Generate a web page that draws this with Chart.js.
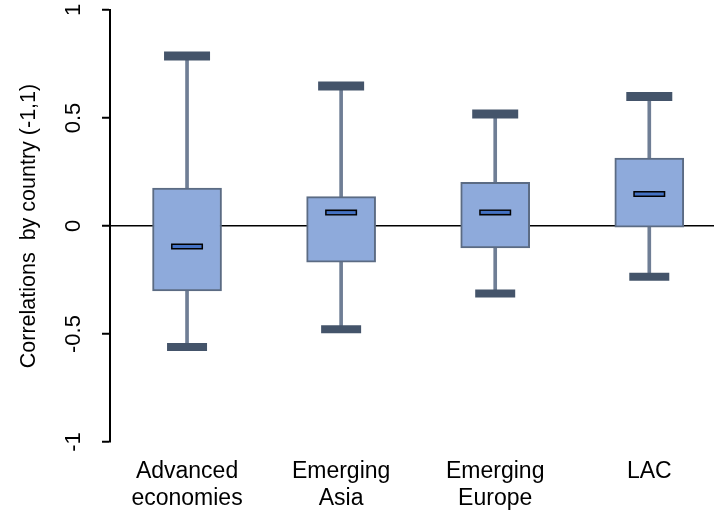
<!DOCTYPE html>
<html>
<head>
<meta charset="utf-8">
<script src="https://cdn.jsdelivr.net/npm/chart.js@4/dist/chart.umd.min.js"></script>
<style>
  html, body { margin: 0; padding: 0; background: #ffffff; }
  #wrap { width: 714px; height: 514px; }
</style>
</head>
<body>
<div id="wrap"><canvas id="chart" width="714" height="514"></canvas></div>
<script>
// Regions shown on the horizontal axis
const categories = [['Advanced', 'economies'], ['Emerging', 'Asia'], ['Emerging', 'Europe'], 'LAC'];

// Box-plot statistics of the country correlations, one value per region
const whiskerLow  = [-0.56, -0.478, -0.312, -0.235];
const quartile1   = [-0.30, -0.168, -0.102, -0.005];
const medians     = [-0.095, 0.062, 0.063, 0.148];
const quartile3   = [0.176, 0.136, 0.202, 0.315];
const whiskerHigh = [0.787, 0.648, 0.519, 0.60];

// Value-axis ticks
const yTicks = [-1, -0.5, 0, 0.5, 1];

const positions = categories.map((_, i) => i);
const pts = (vals) => vals.map((v, i) => ({ x: positions[i], y: v }));
const ranges = (lo, hi) => lo.map((v, i) => ({ x: positions[i], y: [v, hi[i]] }));

const boxFill = '#8eaadb';
const boxEdge = '#5b6b83';
const whiskerColor = '#6f7e95';
const capColor = '#44546a';

new Chart(document.getElementById('chart'), {
  type: 'bar',
  data: {
    datasets: [
      { // median marker, inner fill
        type: 'scatter', data: pts(medians),
        pointStyle: 'line', pointRadius: 14.5, borderWidth: 3,
        borderColor: '#4472c4', pointBorderColor: '#4472c4'
      },
      { // median marker, dark outline
        type: 'scatter', data: pts(medians),
        pointStyle: 'line', pointRadius: 16, borderWidth: 6,
        borderColor: '#000000', pointBorderColor: '#000000'
      },
      { // upper whisker caps
        type: 'scatter', data: pts(whiskerHigh),
        pointStyle: 'line', pointRadius: 23, borderWidth: 9,
        borderColor: capColor, pointBorderColor: capColor
      },
      { // lower whisker caps
        type: 'scatter', data: pts(whiskerLow),
        pointStyle: 'line', pointRadius: 20, borderWidth: 8,
        borderColor: capColor, pointBorderColor: capColor
      },
      { // interquartile boxes
        data: ranges(quartile1, quartile3),
        barThickness: 69, grouped: false, borderSkipped: false,
        backgroundColor: boxFill, borderColor: boxEdge, borderWidth: 2
      },
      { // upper whiskers
        data: ranges(quartile3, whiskerHigh),
        barThickness: 3, grouped: false, borderWidth: 0,
        backgroundColor: whiskerColor
      },
      { // lower whiskers
        data: ranges(whiskerLow, quartile1),
        barThickness: 3, grouped: false, borderWidth: 0,
        backgroundColor: whiskerColor
      }
    ]
  },
  options: {
    responsive: false,
    animation: false,
    events: [],
    layout: { autoPadding: false, padding: { top: 10, right: 0, bottom: 0, left: 0 } },
    plugins: { legend: { display: false }, tooltip: { enabled: false } },
    scales: {
      x: {
        type: 'linear',
        offset: false,
        min: -0.5,
        max: 3.42,
        afterBuildTicks: (scale) => { scale.ticks = positions.map(v => ({ value: v })); },
        afterFit: (scale) => {
          scale.height = 72;
          scale.paddingLeft = 0;
          scale.paddingRight = 0;
        },
        grid: { display: false, drawTicks: false },
        border: { display: false },
        ticks: {
          padding: 16,
          color: '#000000',
          font: { family: 'Liberation Sans, Arial, sans-serif', size: 23, lineHeight: 1.17 },
          callback: (v) => categories[v],
          maxRotation: 0, minRotation: 0
        }
      },
      y: {
        type: 'linear',
        min: -1,
        max: 1,
        afterBuildTicks: (scale) => { scale.ticks = yTicks.map(v => ({ value: v })); },
        afterFit: (scale) => {
          scale.width = 110;
          scale.paddingTop = 0;
          scale.paddingBottom = 0;
        },
        border: { display: true, color: '#000000', width: 2 },
        grid: {
          drawOnChartArea: true,
          drawTicks: true,
          tickLength: 8,
          tickWidth: 2,
          tickColor: '#000000',
          lineWidth: 1.5,
          color: (ctx) => (ctx.tick && ctx.tick.value === 0 ? '#000000' : 'rgba(0,0,0,0)')
        },
        ticks: {
          minRotation: 90, maxRotation: 90,
          crossAlign: 'center',
          padding: 9,
          color: '#000000',
          font: { family: 'Liberation Sans, Arial, sans-serif', size: 22 },
          callback: (v) => String(v)
        },
        title: {
          display: true,
          text: 'Correlations  by country (-1,1)',
          color: '#000000',
          padding: { top: 16, bottom: 0 },
          font: { family: 'Liberation Sans, Arial, sans-serif', size: 21.5 }
        }
      }
    }
  }
});
</script>
</body>
</html>
